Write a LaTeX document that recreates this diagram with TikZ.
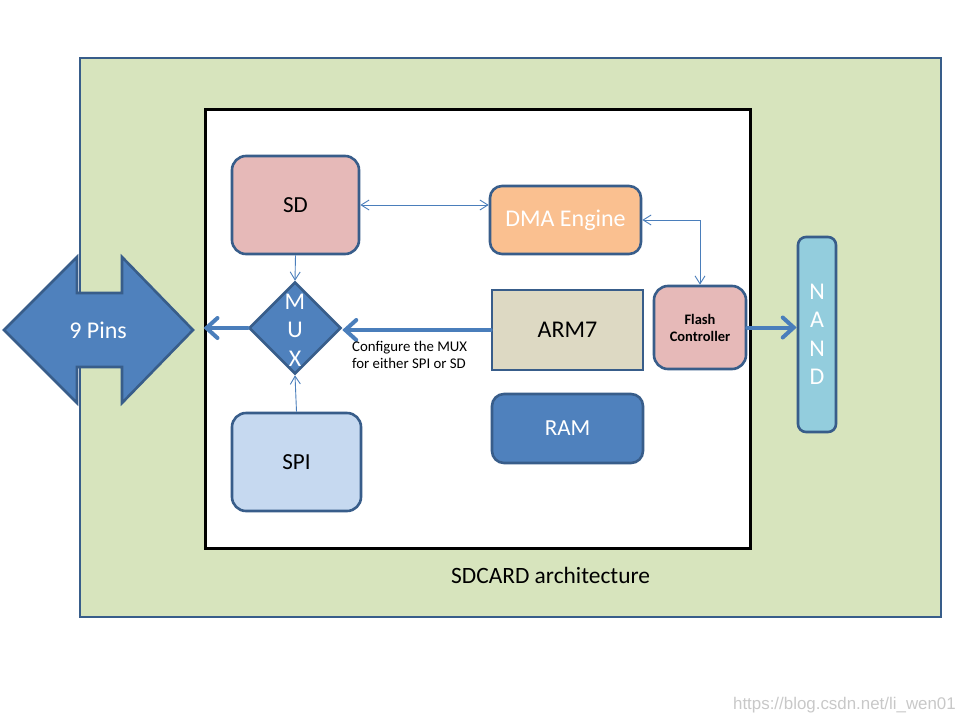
\documentclass[tikz,border=0pt]{standalone}
\usepackage{fontspec}
\setmainfont{Carlito}
\newfontfamily\wmfont{Liberation Sans}
\usetikzlibrary{shapes.geometric,arrows.meta}
\definecolor{bord}{HTML}{385D8A}
\definecolor{cardbg}{HTML}{D7E4BD}
\definecolor{pinkbox}{HTML}{E6B9B8}
\definecolor{orangebox}{HTML}{FAC090}
\definecolor{tanbox}{HTML}{DDD9C3}
\definecolor{bluebox}{HTML}{4F81BD}
\definecolor{lightblue}{HTML}{C6D9F0}
\definecolor{cyanbox}{HTML}{93CDDD}
\definecolor{arrowblue}{HTML}{4A7EBB}
\definecolor{wmgray}{HTML}{C8C8C8}
\begin{document}
\begin{tikzpicture}[x=1pt,y=-1pt,
  box/.style={draw=bord, line width=2.6pt, inner sep=0pt, rounded corners=14pt,
    font=\fontsize{23}{28}\selectfont, align=center},
  bigtext/.style={font=\fontsize{24}{28.5}\selectfont, align=center, inner sep=0pt},
  thick arrow/.style={draw=arrowblue, line width=4pt, line cap=round,
    -{Straight Barb[length=11pt,width=20pt,line cap=round]}},
  thin arrow/.style={draw=arrowblue, line width=0.9pt,
    {Straight Barb[length=8pt,width=10pt]}-{Straight Barb[length=8pt,width=10pt]}},
  thin one/.style={draw=arrowblue, line width=0.9pt,
    -{Straight Barb[length=8pt,width=10pt]}}
]
\useasboundingbox (0,0) rectangle (960,720);

% outer card
\node[draw=bord, line width=2pt, fill=cardbg, minimum width=861pt, minimum height=559pt, inner sep=0pt]
  (card) at (510.5,337.5) {};

% 9 pins double arrow
\filldraw[fill=bluebox, draw=bord, line width=2.6pt, line join=miter]
  (4,330) -- (77,257) -- (77,293) -- (122,293) -- (122,257) -- (193,330)
  -- (122,403) -- (122,367) -- (77,367) -- (77,403) -- cycle;
\node[bigtext, text=white] (pins) at (98,330) {9 Pins};

% inner board
\node[draw=black, line width=3pt, fill=white, minimum width=545pt, minimum height=439pt, inner sep=0pt]
  (board) at (477.5,328.5) {};

% blocks
\node[box, fill=pinkbox, minimum width=127pt, minimum height=98pt] (sd) at (295.5,205) {SD};
\node[box, fill=orangebox, text=white, rounded corners=12pt, minimum width=151pt, minimum height=68pt,
  font=\fontsize{24}{28}\selectfont] (dma) at (565.5,220) {DMA Engine};
\node[box, fill=tanbox, rounded corners=0pt, minimum width=151pt, minimum height=80pt,
  font=\fontsize{24}{28}\selectfont] (arm) at (567.5,330) {ARM7};
\node[box, fill=pinkbox, minimum width=92pt, minimum height=83pt,
  font=\fontsize{14.5}{17}\selectfont\bfseries] (flash) at (700,327.5) {Flash\\Controller};
\node[box, fill=cyanbox, rounded corners=8pt, minimum width=38pt, minimum height=195pt] (nand) at (817,334.5) {};
\node[bigtext, text=white] (nandtext) at (817,334.5) {N\\A\\N\\D};
\node[box, fill=bluebox, text=white, rounded corners=12pt, minimum width=151pt, minimum height=69pt]
  (ram) at (567.5,428.5) {RAM};
\node[box, fill=lightblue, minimum width=129pt, minimum height=98pt] (spi) at (296.5,462) {SPI};

% mux
\node[draw=bord, fill=bluebox, line width=2.6pt, diamond, shape aspect=1, inner sep=0pt,
  minimum width=92pt, minimum height=92pt] (mux) at (295,328) {};
\node[bigtext, text=white] (muxtext) at (295,330) {M\\U\\X};

% connectors
\draw[thick arrow] (mux.west) -- (mux.west -| board.west);
\draw[thick arrow] (arm.west) -- (arm.west -| mux.east);
\draw[thick arrow] (flash.east) -- (flash.east -| nand.west);
\draw[thin arrow] (sd.east) -- (sd.east -| dma.west);
\draw[thin arrow] (dma.east) -| (flash.north);
\draw[thin one] (sd.south) -- (mux.north);
\draw[thin one] (spi.north) -- (mux.south);

% labels
\node[anchor=north west, align=left, inner sep=0pt, font=\fontsize{14.8}{17}\selectfont]
  (cfg) at (352,341) {Configure the MUX\\for either SPI or SD};
\node[anchor=base west, inner sep=0pt, font=\fontsize{23.4}{28}\selectfont]
  (title) at (451,583) {SDCARD architecture};
\node[anchor=base east, inner sep=0pt, text=wmgray, font=\wmfont\fontsize{16.9}{19}\selectfont]
  (wm) at (956,709) {https://blog.csdn.net/li\_wen01};
\end{tikzpicture}
\end{document}
